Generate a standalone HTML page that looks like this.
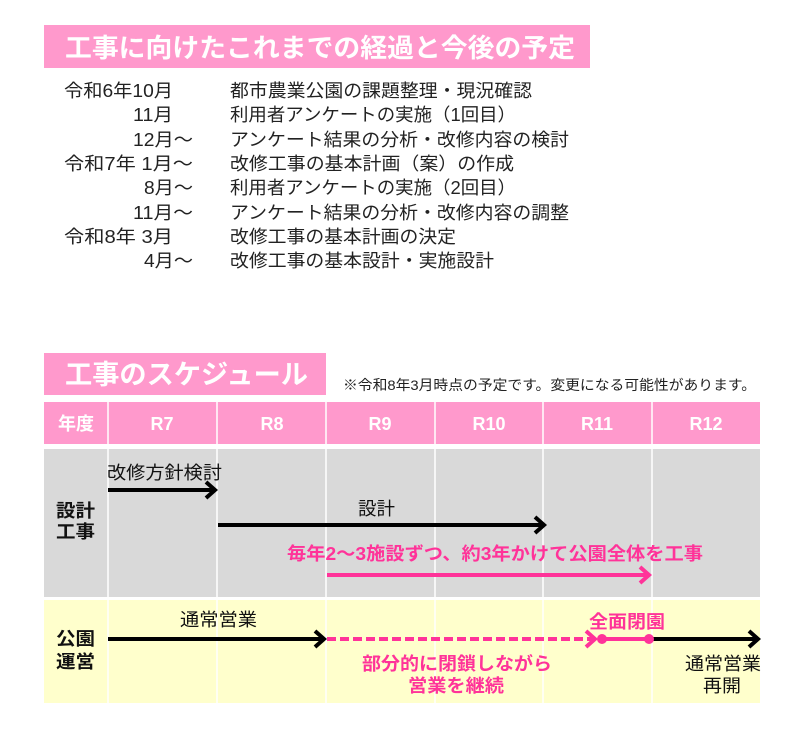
<!DOCTYPE html>
<html><head><meta charset="utf-8"><style>
html,body{margin:0;padding:0;background:#fff;}
svg text{font-family:"Liberation Sans","Noto Sans CJK JP",sans-serif;}
</style></head><body>
<svg width="786" height="734" viewBox="0 0 786 734" xmlns="http://www.w3.org/2000/svg">
<rect x="44" y="25" width="546" height="43" fill="#ff99cc"/>
<text x="65" y="57" font-size="26" font-weight="bold" fill="#fff" textLength="510" lengthAdjust="spacingAndGlyphs">工事に向けたこれまでの経過と今後の予定</text>
<g font-size="18" fill="#222" lengthAdjust="spacingAndGlyphs">
<text x="64" y="97" textLength="109" lengthAdjust="spacingAndGlyphs">令和6年10月</text><text x="230" y="97" textLength="302" lengthAdjust="spacingAndGlyphs">都市農業公園の課題整理・現況確認</text>
<text x="133" y="121" textLength="40" lengthAdjust="spacingAndGlyphs">11月</text><text x="230" y="121" textLength="286" lengthAdjust="spacingAndGlyphs">利用者アンケートの実施（1回目）</text>
<text x="133" y="146" textLength="60" lengthAdjust="spacingAndGlyphs">12月～</text><text x="230" y="146" textLength="339" lengthAdjust="spacingAndGlyphs">アンケート結果の分析・改修内容の検討</text>
<text x="64" y="170" textLength="129" lengthAdjust="spacingAndGlyphs">令和7年  1月～</text><text x="230" y="170" textLength="284" lengthAdjust="spacingAndGlyphs">改修工事の基本計画（案）の作成</text>
<text x="144" y="194" textLength="49" lengthAdjust="spacingAndGlyphs">8月～</text><text x="230" y="194" textLength="286" lengthAdjust="spacingAndGlyphs">利用者アンケートの実施（2回目）</text>
<text x="133" y="219" textLength="60" lengthAdjust="spacingAndGlyphs">11月～</text><text x="230" y="219" textLength="339" lengthAdjust="spacingAndGlyphs">アンケート結果の分析・改修内容の調整</text>
<text x="64" y="243" textLength="109" lengthAdjust="spacingAndGlyphs">令和8年  3月</text><text x="230" y="243" textLength="226" lengthAdjust="spacingAndGlyphs">改修工事の基本計画の決定</text>
<text x="144" y="267" textLength="49" lengthAdjust="spacingAndGlyphs">4月～</text><text x="230" y="267" textLength="264" lengthAdjust="spacingAndGlyphs">改修工事の基本設計・実施設計</text>
</g>
<rect x="44" y="353" width="282" height="42" fill="#ff99cc"/>
<text x="65" y="384" font-size="27" font-weight="bold" fill="#fff" textLength="243" lengthAdjust="spacingAndGlyphs">工事のスケジュール</text>
<text x="343" y="390" font-size="14" fill="#222" textLength="413" lengthAdjust="spacingAndGlyphs">※令和8年3月時点の予定です。変更になる可能性があります。</text>
<rect x="44" y="402" width="716" height="42" fill="#ff99cc"/>
<rect x="44" y="449" width="716" height="148" fill="#d9d9d9"/>
<rect x="44" y="600" width="716" height="103" fill="#ffffcc"/>
<g stroke="#fff" stroke-width="1.5">
<line x1="108" y1="402" x2="108" y2="703"/><line x1="217" y1="402" x2="217" y2="703"/>
<line x1="326" y1="402" x2="326" y2="703"/><line x1="435" y1="402" x2="435" y2="703"/>
<line x1="543" y1="402" x2="543" y2="703"/><line x1="652" y1="402" x2="652" y2="703"/>
</g>
<g font-size="18" font-weight="bold" fill="#fff" text-anchor="middle">
<text x="76" y="430">年度</text><text x="162" y="430">R7</text><text x="272" y="430">R8</text><text x="380" y="430">R9</text><text x="489" y="430">R10</text><text x="597" y="430">R11</text><text x="706" y="430">R12</text>
</g>
<g font-size="18" font-weight="bold" fill="#111">
<text x="56" y="517" textLength="39" lengthAdjust="spacingAndGlyphs">設計</text><text x="56" y="538" textLength="39" lengthAdjust="spacingAndGlyphs">工事</text>
<text x="56" y="645" textLength="39" lengthAdjust="spacingAndGlyphs">公園</text><text x="56" y="668" textLength="39" lengthAdjust="spacingAndGlyphs">運営</text>
</g>
<g font-size="18" fill="#111">
<text x="107" y="479" textLength="115" lengthAdjust="spacingAndGlyphs">改修方針検討</text>
<text x="358" y="515" textLength="37" lengthAdjust="spacingAndGlyphs">設計</text>
<text x="180" y="626" textLength="77" lengthAdjust="spacingAndGlyphs">通常営業</text>
<text x="685" y="670" textLength="76" lengthAdjust="spacingAndGlyphs">通常営業</text><text x="703" y="692" textLength="38" lengthAdjust="spacingAndGlyphs">再開</text>
</g>
<g font-size="18" font-weight="bold" fill="#ff3399">
<text x="287" y="560" textLength="416" lengthAdjust="spacingAndGlyphs">毎年2～3施設ずつ、約3年かけて公園全体を工事</text>
<text x="589" y="628" textLength="76" lengthAdjust="spacingAndGlyphs">全面閉園</text>
<text x="362" y="670" textLength="190" lengthAdjust="spacingAndGlyphs">部分的に閉鎖しながら</text><text x="408" y="692" textLength="96" lengthAdjust="spacingAndGlyphs">営業を継続</text>
</g>
<g fill="none" stroke-width="4">
<path d="M108 490H215M206 482L215 490L206 498" stroke="#000"/>
<path d="M218 525H544M535 517L544 525L535 533" stroke="#000"/>
<path d="M327 575H649M640 567L649 575L640 583" stroke="#ff3399"/>
<path d="M108 639H324M315 631L324 639L315 647" stroke="#000"/>
<path d="M327 639H592" stroke="#ff3399" stroke-dasharray="9,4"/>
<path d="M586 631L595 639L586 647" stroke="#ff3399"/>
<path d="M602 639H649" stroke="#ff3399"/>
<path d="M652 639H758M749 631L758 639L749 647" stroke="#000"/>
</g>
<circle cx="602" cy="639" r="5" fill="#ff3399"/><circle cx="649" cy="639" r="5" fill="#ff3399"/>
</svg>
</body></html>
